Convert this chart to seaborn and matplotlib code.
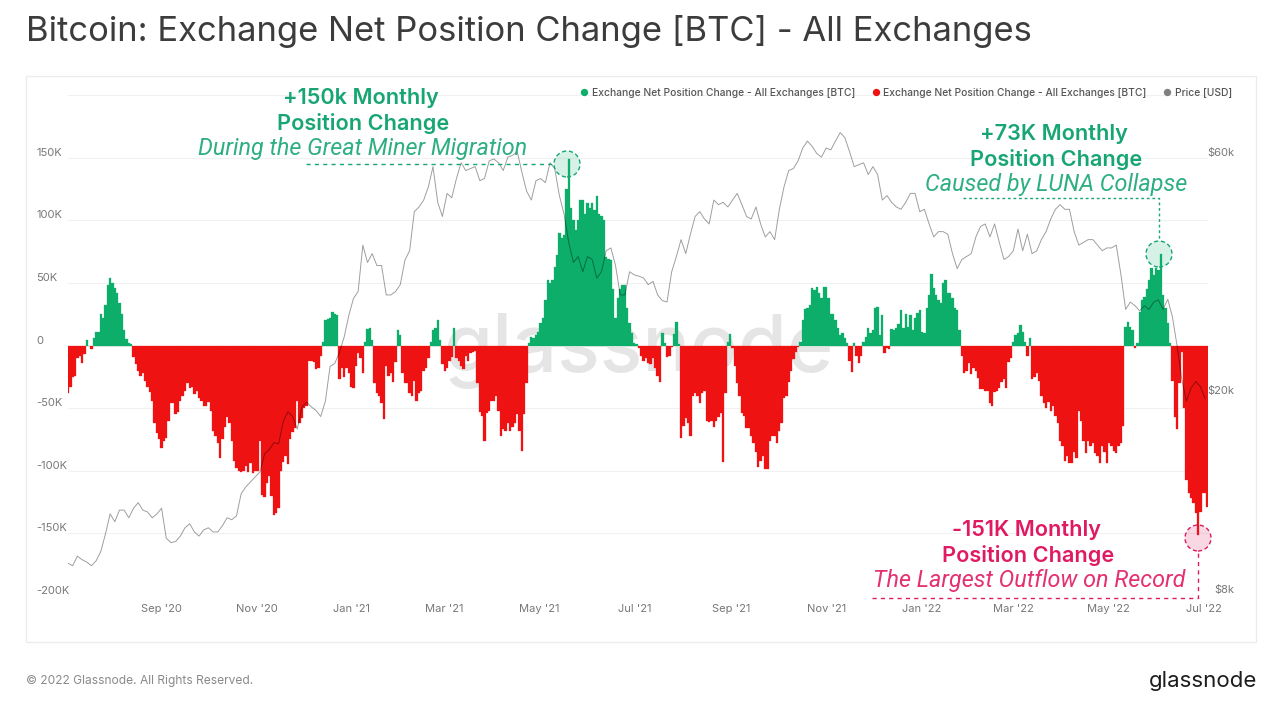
import pandas as pd
import numpy as np
import matplotlib
matplotlib.use("Agg")
import matplotlib.pyplot as plt
import matplotlib.dates as mdates
import matplotlib.transforms as mtrans
import seaborn as sns

START_DATE = "2020-07-03"

# Exchange net position change, thousands of BTC, one reading every 36 hours
net_change_k = [
    -38, -33, -25, -24, -10, -8, -14, -7, 4, 0, -3, 6, 11, 11, 25, 22, 32, 48, 54, 50,
    46, 42, 34, 25, 12, 5, 2, 1, -9, -15, -20, -24, -22, -28, -33, -37, -44, -62, -70, -75,
    -82, -76, -74, -60, -46, -46, -55, -53, -44, -40, -36, -30, -34, -33, -39, -36, -42, -44, -48, -48,
    -45, -52, -68, -72, -78, -90, -75, -65, -57, -62, -76, -92, -98, -100, -101, -100, -96, -101, -94, -102,
    -100, -100, -76, -119, -121, -110, -104, -120, -135, -134, -130, -100, -93, -88, -95, -75, -69, -66, -44, -62,
    -58, -50, -48, -12, -12, -13, -19, -18, -8, 3, 20, 21, 22, 27, 25, 24, -27, -18, -25, -18,
    -22, -33, -34, -16, -6, -10, -22, 3, 13, 14, 4, -30, -38, -40, -46, -59, -16, -24, -22, -29,
    -13, 12, 8, -22, -30, -30, -38, -40, -28, -44, -38, -36, -20, -18, -10, 3, 12, 14, 20, 4,
    -15, -20, -18, -12, -9, 14, -10, -12, -16, -19, -8, -12, -6, -5, -4, -30, -53, -56, -76, -54,
    -52, -44, -44, -40, -52, -72, -67, -68, -62, -68, -65, -62, -55, -68, -84, -55, -30, 2, 7, 6,
    8, 11, 18, 22, 36, 52, 50, 52, 63, 72, 90, 86, 88, 125, 149, 110, 100, 92, 100, 116,
    116, 105, 114, 110, 114, 108, 119, 105, 103, 100, 71, 69, 68, 45, 22, 38, 45, 48, 48, 30,
    18, 10, 2, 1, -2, -8, -12, -10, -14, -15, -10, -18, -24, -29, 10, 2, -9, -8, -1, 9,
    19, 1, -74, -64, -58, -62, -72, -40, -38, -40, -46, -38, -36, -60, -61, -60, -65, -60, -57, -54,
    -93, -38, 3, 9, -2, -16, -30, -40, -54, -56, -66, -66, -72, -78, -85, -97, -92, -88, -99, -99,
    -76, -72, -72, -78, -68, -62, -42, -40, -29, -20, -11, -5, -1, 3, 20, 29, 30, 32, 46, 44,
    47, 42, 38, 47, 47, 38, 25, 25, 20, 14, 8, 10, 6, 2, -12, -21, 2, -8, -14, -8,
    3, 7, 14, 10, 12, 30, 31, 8, 24, -6, -2, -3, 13, 12, 14, 17, 28, 14, 25, 15,
    24, 12, 22, 26, 28, 11, 10, 30, 40, 57, 46, 40, 36, 34, 50, 52, 42, 42, 38, 30,
    28, 12, -8, -22, -20, -14, -23, -18, -20, -26, -35, -35, -36, -36, -46, -48, -37, -36, -34, -29,
    -27, -34, -13, -10, 3, 8, 10, 16, 11, 3, -8, 6, -27, -25, -22, -28, -40, -46, -50, -45,
    -52, -48, -56, -62, -76, -80, -92, -88, -94, -94, -85, -90, -52, -60, -76, -86, -76, -80, -78, -86,
    -88, -94, -80, -85, -94, -78, -80, -84, -86, -80, -78, -64, 15, 19, 15, 12, -2, 2, 27, 36,
    39, 45, 52, 62, 56, 62, 60, 73, 40, 30, 18, 2, -28, -57, -67, -30, -5, -50, -107, -118,
    -122, -126, -134, -151, -133, -118, -118, -129,
]

# BTC price, thousands of USD, one reading every 3 days
price_k = [
    9.0, 8.9, 9.3, 9.15, 9.05, 8.9, 9.1, 9.5, 10.3, 11.3,
    10.9, 11.5, 11.5, 11.1, 11.6, 11.9, 11.5, 11.4, 11.1, 11.3,
    11.6, 10.1, 9.9, 9.95, 10.2, 10.6, 10.8, 10.4, 10.2, 10.5,
    10.6, 10.4, 10.4, 10.7, 11.1, 11.0, 11.2, 12.4, 12.8, 13.1,
    13.4, 13.7, 14.9, 15.2, 15.7, 15.6, 17.3, 18.1, 17.7, 16.7,
    18.5, 18.9, 18.5, 18.2, 17.7, 19.0, 22.3, 22.6, 23.8, 25.5,
    28.2, 30.5, 31.5, 39.0, 36.0, 37.5, 35.5, 35.5, 31.0, 31.0,
    31.5, 32.5, 36.4, 38.0, 45.5, 46.5, 48.0, 51.0, 56.0, 47.5,
    44.5, 49.5, 48.5, 53.0, 57.0, 55.0, 55.5, 56.0, 52.5, 53.0,
    57.5, 58.0, 57.0, 55.0, 58.5, 59.0, 60.0, 54.5, 50.0, 48.0,
    52.5, 53.0, 52.0, 57.0, 55.5, 49.0, 45.0, 39.5, 36.0, 37.0,
    34.5, 37.0, 36.5, 33.5, 34.5, 38.0, 38.5, 35.5, 31.0, 31.0,
    34.5, 34.0, 33.8, 33.5, 32.5, 33.0, 31.0, 30.2, 30.0, 34.5,
    37.0, 40.0, 37.5, 41.0, 44.5, 45.5, 44.0, 43.0, 48.0, 47.0,
    47.5, 46.5, 48.0, 49.5, 47.0, 44.5, 44.0, 46.5, 43.0, 40.5,
    41.5, 40.0, 46.0, 51.0, 55.0, 55.5, 57.5, 61.0, 63.0, 61.5,
    59.5, 58.5, 61.0, 60.5, 63.0, 65.5, 64.0, 60.0, 56.0, 56.5,
    57.0, 54.0, 56.0, 54.0, 48.0, 49.0, 47.5, 46.5, 46.0, 47.5,
    49.5, 49.5, 45.5, 46.0, 43.0, 40.5, 41.5, 41.5, 41.0, 37.5,
    35.0, 36.5, 37.0, 37.5, 40.5, 42.5, 43.0, 40.5, 43.0, 39.5,
    36.5, 37.0, 38.0, 42.0, 38.0, 41.0, 37.5, 38.0, 40.0, 41.5,
    44.0, 46.0, 47.0, 46.0, 46.0, 41.5, 39.0, 39.5, 40.0, 40.0,
    39.0, 38.0, 38.5, 38.5, 39.0, 34.0, 29.0, 30.0, 29.5, 28.8,
    29.5, 29.0, 30.0, 30.3, 29.0, 30.4, 28.0, 24.5, 21.0, 19.0,
    20.2, 20.8, 20.3, 19.2,
]

net_ticks_k = [-200, -150, -100, -50, 0, 50, 100, 150, 200]
net_tick_labels = ["-200K", "-150K", "-100K", "-50K", "0", "50K", "100K", "150K", ""]
price_ticks_k = [8, 20, 60]
price_tick_labels = ["$8k", "$20k", "$60k"]
date_ticks = ["2020-09-01", "2020-11-01", "2021-01-01", "2021-03-01", "2021-05-01", "2021-07-01",
              "2021-09-01", "2021-11-01", "2022-01-01", "2022-03-01", "2022-05-01", "2022-07-01"]
date_tick_labels = ["Sep '20", "Nov '20", "Jan '21", "Mar '21", "May '21", "Jul '21",
                    "Sep '21", "Nov '21", "Jan '22", "Mar '22", "May '22", "Jul '22"]

GREEN = "#0cae6a"
RED = "#ee1212"
TEXT_GREEN = "#17a673"
TEXT_PINK = "#e01a62"
W, H = 1280, 708

sns.set_theme(style="white")
plt.rcParams["font.family"] = ["Inter", "DejaVu Sans"]

net_df = pd.DataFrame({
    "day": mdates.date2num(pd.date_range(START_DATE, periods=len(net_change_k), freq="36h")),
    "net": net_change_k,
})
net_df["side"] = np.where(net_df["net"] >= 0, "up", "down")
price_df = pd.DataFrame({
    "day": mdates.date2num(pd.date_range(START_DATE, periods=len(price_k), freq="3D")),
    "price": price_k,
})

fig = plt.figure(figsize=(W / 100, H / 100), dpi=100, facecolor="white")
# plot area in pixels: x 68-1208, y 95-596
ax = fig.add_axes([68 / W, 1 - 596 / H, 1140 / W, 501 / H])
ax.set_facecolor("none")

ax.text(0.5, 0.49, "glassnode", transform=ax.transAxes, ha="center", va="center",
        fontsize=57, fontweight="medium", color="#e5e5e5", zorder=0.5)

sns.barplot(data=net_df, x="day", y="net", hue="side", native_scale=True, dodge=False, width=1,
            palette={"up": GREEN, "down": RED}, saturation=1, errorbar=None, legend=False,
            zorder=2, ax=ax)
for bar in ax.patches:
    bar.set_edgecolor(bar.get_facecolor())
    bar.set_linewidth(0.2)

x0 = mdates.date2num(pd.Timestamp(START_DATE))
ax.set_xlim(x0, x0 + 730.8)
ax.set_ylim(-200, 200)
ax.set_xlabel("")
ax.set_ylabel("")
ax.set_yticks(net_ticks_k)
ax.set_yticklabels(net_tick_labels)
ax.set_xticks(mdates.date2num(pd.to_datetime(date_ticks)))
ax.set_xticklabels(date_tick_labels)
ax.tick_params(axis="y", length=0, pad=23, labelsize=8, labelcolor="#777777")
ax.tick_params(axis="x", length=0, pad=6, labelsize=8, labelcolor="#777777")
# the left labels sit left-aligned, a little above their gridline
lift = mtrans.ScaledTranslation(0, 6 / 100, fig.dpi_scale_trans)
for lab in ax.get_yticklabels():
    lab.set_ha("left")
    lab.set_transform(lab.get_transform() + lift)
ax.grid(axis="y", color="#f1f1f1", linewidth=0.8)
ax.set_axisbelow(True)
sns.despine(ax=ax, left=True, bottom=True)

ax2 = ax.twinx()
ax2.set_yscale("log")
sns.lineplot(data=price_df, x="day", y="price", ax=ax2, color="black", alpha=0.38, linewidth=0.7, zorder=3)
ax2.set_ylim(7.74, 77.9)
ax2.set_xlim(ax.get_xlim())
ax2.set_ylabel("")
ax2.set_yticks(price_ticks_k)
ax2.set_yticklabels(price_tick_labels)
ax2.minorticks_off()
ax2.tick_params(axis="y", length=0, pad=18.7, labelsize=8, labelcolor="#777777")
for lab in ax2.get_yticklabels():
    lab.set_ha("right")
ax2.grid(False)
sns.despine(ax=ax2, left=True, bottom=True, right=True)

# overlay in pixel coordinates for the panel, legend and callouts
ov = fig.add_axes([0, 0, 1, 1], facecolor="none")
ov.set_xlim(0, W)
ov.set_ylim(H, 0)
ov.axis("off")

ov.add_patch(plt.Rectangle((26, 76), 1230, 566, fill=False, edgecolor="#ececec", linewidth=1))

ov.text(26, 31.5, "Bitcoin: Exchange Net Position Change [BTC] - All Exchanges",
        fontsize=24.9, color="#3c3c3c", va="center", ha="left")

for dot_x, text_x, label, color in [
    (584, 592, "Exchange Net Position Change - All Exchanges [BTC]", GREEN),
    (876, 883, "Exchange Net Position Change - All Exchanges [BTC]", RED),
    (1167, 1175, "Price [USD]", "#808080"),
]:
    ov.scatter([dot_x], [92], s=28, color=color, linewidths=0)
    ov.text(text_x, 92.5, label, fontsize=7.4, color="#555555", va="center", ha="left", fontweight="medium")


def callout(cx, y1, line1, line2, italic, italic_cx, color):
    ov.text(cx, y1 + 1.5, line1, color=color, fontsize=15.6, fontweight="semibold", ha="center", va="center")
    ov.text(cx + 2, y1 + 27, line2, color=color, fontsize=15.6, fontweight="semibold", ha="center", va="center")
    ov.text(italic_cx, y1 + 52, italic, color=color, fontsize=16.8, family=["Roboto", "DejaVu Sans"],
            style="italic", ha="center", va="center", alpha=0.9)


def marker(x, y, fill, color):
    ov.scatter([x], [y], s=350, facecolor=fill, edgecolor=color, linewidths=1, linestyle=(0, (3, 2)), zorder=5)


callout(361, 96, "+150k Monthly", "Position Change", "During the Great Miner Migration", 363, TEXT_GREEN)
ov.plot([306, 554], [164, 164], color=TEXT_GREEN, lw=1, ls=(0, (3, 3)))
marker(567, 164, "#0cae6a2b", TEXT_GREEN)

callout(1054, 132, "+73K Monthly", "Position Change", "Caused by LUNA Collapse", 1056, TEXT_GREEN)
ov.plot([963, 1159, 1159], [198, 198, 241], color=TEXT_GREEN, lw=1, ls=(0, (2, 2)))
marker(1159, 254, "#0cae6a2b", TEXT_GREEN)

callout(1026, 528, "-151K Monthly", "Position Change", "The Largest Outflow on Record", 1029, TEXT_PINK)
ov.plot([872, 1198, 1198], [598, 598, 552], color=TEXT_PINK, lw=1, ls=(0, (3, 3)))
marker(1198, 538, "#e01a622b", TEXT_PINK)

ov.text(26, 681, "© 2022 Glassnode. All Rights Reserved.", fontsize=8.65, color="#8a8a8a", va="center", ha="left")
ov.text(1257, 681, "glassnode", fontsize=16, color="#1c1c1c", va="center", ha="right")

fig.savefig("out.png", dpi=100)
